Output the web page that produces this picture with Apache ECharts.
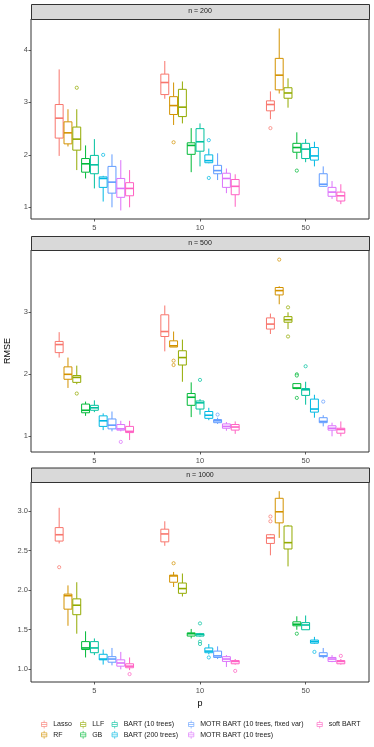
<!DOCTYPE html>
<html>
<head>
<meta charset="utf-8">
<script src="https://cdn.jsdelivr.net/npm/echarts@6/dist/echarts.min.js"></script>
<style>
  html, body { margin: 0; padding: 0; background: #fff; }
  #chart { width: 374px; height: 747px; }
</style>
</head>
<body>
<div id="chart"></div>
<script>
const methods = ['Lasso', 'RF', 'LLF', 'GB', 'BART (10 trees)', 'BART (200 trees)',
  'MOTR BART (10 trees, fixed var)', 'MOTR BART (10 trees)', 'soft BART']
const colors = ['#F8766D', '#D39200', '#93AA00', '#00BA38', '#00C19F', '#00B9E3', '#619CFF', '#DB72FB', '#FF61C3']
const pLabels = ['5', '10', '50']
const panelTitles = ['n = 200', 'n = 500', 'n = 1000']

// [lower whisker, Q1, median, Q3, upper whisker], one row per method
const n200_p5 = [[1.98, 2.32, 2.70, 2.96, 3.63], [2.16, 2.21, 2.42, 2.63, 2.87], [1.71, 2.09, 2.30, 2.53, 2.87],
  [1.55, 1.67, 1.83, 1.93, 2.18], [1.36, 1.64, 1.81, 1.99, 2.30], [1.11, 1.38, 1.55, 1.58, 1.60],
  [1.00, 1.27, 1.48, 1.78, 2.01], [0.94, 1.19, 1.36, 1.55, 1.90], [1.00, 1.22, 1.36, 1.47, 1.71]]
const n200_p10 = [[3.07, 3.15, 3.38, 3.54, 3.79], [2.57, 2.77, 2.94, 3.11, 3.38], [2.60, 2.73, 2.91, 3.25, 3.40],
  [1.67, 2.01, 2.18, 2.23, 2.51], [1.78, 2.07, 2.25, 2.50, 2.60], [1.84, 1.85, 1.89, 2.00, 2.12],
  [1.52, 1.64, 1.70, 1.80, 2.03], [1.27, 1.38, 1.55, 1.65, 1.74], [1.01, 1.24, 1.40, 1.53, 1.63]]
const n200_p50 = [[2.68, 2.84, 2.96, 3.03, 3.21], [3.17, 3.24, 3.52, 3.84, 4.41], [2.90, 3.08, 3.18, 3.28, 3.46],
  [1.92, 2.05, 2.14, 2.22, 2.43], [1.86, 1.93, 2.11, 2.22, 2.30], [1.78, 1.90, 1.98, 2.14, 2.25],
  [1.39, 1.40, 1.44, 1.64, 1.78], [1.16, 1.21, 1.29, 1.38, 1.50], [1.06, 1.12, 1.22, 1.29, 1.44]]

const n500_p5 = [[2.27, 2.35, 2.48, 2.53, 2.68], [1.78, 1.92, 2.00, 2.12, 2.27], [1.84, 1.87, 1.95, 1.98, 2.14],
  [1.33, 1.38, 1.42, 1.52, 1.56], [1.39, 1.42, 1.46, 1.50, 1.58], [1.10, 1.16, 1.25, 1.33, 1.37],
  [1.08, 1.12, 1.18, 1.28, 1.40], [1.08, 1.10, 1.12, 1.19, 1.25], [0.94, 1.06, 1.08, 1.16, 1.25]]
const n500_p10 = [[2.37, 2.61, 2.69, 2.96, 3.11], [2.44, 2.44, 2.46, 2.54, 2.69], [1.88, 2.15, 2.27, 2.38, 2.56],
  [1.31, 1.50, 1.63, 1.69, 1.87], [1.35, 1.44, 1.54, 1.57, 1.60], [1.26, 1.29, 1.34, 1.40, 1.46],
  [1.20, 1.22, 1.25, 1.27, 1.30], [1.09, 1.13, 1.16, 1.20, 1.23], [1.04, 1.10, 1.15, 1.19, 1.24]]
const n500_p50 = [[2.65, 2.73, 2.81, 2.91, 2.98], [3.13, 3.28, 3.35, 3.40, 3.42], [2.73, 2.84, 2.88, 2.93, 3.00],
  [1.76, 1.77, 1.78, 1.85, 1.85], [1.51, 1.66, 1.75, 1.77, 1.88], [1.30, 1.39, 1.44, 1.60, 1.67],
  [1.16, 1.22, 1.24, 1.30, 1.34], [1.00, 1.10, 1.13, 1.17, 1.22], [1.00, 1.05, 1.11, 1.13, 1.24]]

const n1000_p5 = [[2.59, 2.62, 2.70, 2.79, 3.04], [1.55, 1.76, 1.93, 1.95, 2.06], [1.45, 1.69, 1.81, 1.89, 2.10],
  [1.15, 1.25, 1.27, 1.35, 1.48], [1.18, 1.21, 1.27, 1.35, 1.39], [1.06, 1.12, 1.13, 1.19, 1.25],
  [1.05, 1.09, 1.13, 1.16, 1.27], [1.00, 1.04, 1.08, 1.12, 1.22], [0.99, 1.02, 1.04, 1.07, 1.15]]
const n1000_p10 = [[2.56, 2.61, 2.71, 2.77, 2.87], [2.04, 2.10, 2.18, 2.19, 2.23], [1.92, 1.96, 2.02, 2.09, 2.21],
  [1.39, 1.42, 1.45, 1.46, 1.51], [1.41, 1.42, 1.44, 1.45, 1.46], [1.19, 1.21, 1.23, 1.27, 1.32],
  [1.13, 1.15, 1.17, 1.23, 1.29], [1.03, 1.10, 1.13, 1.16, 1.18], [1.06, 1.07, 1.10, 1.11, 1.13]]
const n1000_p50 = [[2.44, 2.59, 2.66, 2.70, 2.71], [2.66, 2.85, 2.99, 3.16, 3.25], [2.30, 2.52, 2.60, 2.81, 2.82],
  [1.50, 1.55, 1.57, 1.60, 1.67], [1.50, 1.50, 1.56, 1.59, 1.68], [1.32, 1.33, 1.35, 1.37, 1.41],
  [1.14, 1.16, 1.17, 1.21, 1.27], [1.09, 1.10, 1.13, 1.15, 1.18], [1.06, 1.07, 1.10, 1.11, 1.13]]

// outliers: [method index, p index, RMSE]
const n200_out = [[2, 0, 3.28], [5, 0, 2.00], [1, 1, 2.24], [5, 1, 2.28], [5, 1, 1.56], [0, 2, 2.51], [3, 2, 1.70]]
const n500_out = [[2, 0, 1.69], [7, 0, 0.91], [1, 1, 2.22], [1, 1, 2.15], [4, 1, 1.91], [6, 1, 1.35],
  [1, 2, 3.85], [2, 2, 3.08], [2, 2, 2.61], [3, 2, 2.00], [3, 2, 1.98], [3, 2, 1.62], [4, 2, 2.13], [6, 2, 1.56]]
const n1000_out = [[0, 0, 2.29], [8, 0, 0.94], [1, 1, 2.34], [4, 1, 1.58], [4, 1, 1.35], [4, 1, 1.32], [5, 1, 1.15],
  [8, 1, 0.98], [0, 2, 2.93], [0, 2, 2.87], [3, 2, 1.45], [5, 2, 1.22], [8, 2, 1.17]]

const yTicks = [[1, 2, 3, 4], [1, 2, 3], [1, 1.5, 2, 2.5, 3]]

const panels = [
  { stats: [n200_p5, n200_p10, n200_p50], out: n200_out, ymin: 0.777, ymax: 4.591, top: 19, height: 200, stripTop: 4 },
  { stats: [n500_p5, n500_p10, n500_p50], out: n500_out, ymin: 0.747, ymax: 4.005, top: 250, height: 202, stripTop: 236 },
  { stats: [n1000_p5, n1000_p10, n1000_p50], out: n1000_out, ymin: 0.84, ymax: 3.366, top: 482, height: 200, stripTop: 467.5 }
]

const font = "'Liberation Sans', Arial, sans-serif"
const slot = 0.75 / methods.length
const boxW = slot * 0.9
function xPos(m, p) {
  return p + 1 + (m - (methods.length - 1) / 2) * slot
}

function renderBox(params, api) {
  const x = api.value(0)
  const lo = api.coord([x, api.value(1)])
  const q1 = api.coord([x, api.value(2)])
  const md = api.coord([x, api.value(3)])
  const q3 = api.coord([x, api.value(4)])
  const hi = api.coord([x, api.value(5)])
  const w = api.size([boxW, 0])[0]
  const c = api.visual('color')
  return {
    type: 'group',
    children: [
      { type: 'line', shape: { x1: lo[0], y1: lo[1], x2: q1[0], y2: q1[1] }, style: { stroke: c, lineWidth: 1 } },
      { type: 'line', shape: { x1: q3[0], y1: q3[1], x2: hi[0], y2: hi[1] }, style: { stroke: c, lineWidth: 1 } },
      { type: 'rect', shape: { x: q3[0] - w / 2, y: q3[1], width: w, height: q1[1] - q3[1] },
        style: { stroke: c, fill: '#fff', lineWidth: 1 } },
      { type: 'line', shape: { x1: md[0] - w / 2, y1: md[1], x2: md[0] + w / 2, y2: md[1] },
        style: { stroke: c, lineWidth: 1.6 } }
    ]
  }
}

const grids = [], xAxes = [], yAxes = [], series = [], graphics = []
panels.forEach((pn, g) => {
  grids.push({ left: 31, width: 338, top: pn.top, height: pn.height, show: true, outerBoundsMode: 'none',
    borderColor: '#333333', borderWidth: 1, backgroundColor: '#fff' })
  xAxes.push({
    gridIndex: g, type: 'value', min: 0.4, max: 3.6,
    axisLine: { show: false }, splitLine: { show: false },
    axisTick: { customValues: [1, 2, 3], length: 2.5, lineStyle: { color: '#333333', width: 0.8 } },
    axisLabel: { customValues: [1, 2, 3], formatter: v => pLabels[Math.round(v) - 1],
      fontSize: 7.5, color: '#4D4D4D', margin: 4.5, fontFamily: font },
    name: g === 2 ? 'p' : '', nameLocation: 'middle', nameGap: 17,
    nameTextStyle: { fontSize: 9, color: '#000', fontFamily: font }
  })
  yAxes.push({
    gridIndex: g, type: 'value', min: pn.ymin, max: pn.ymax,
    axisLine: { show: false }, splitLine: { show: false },
    axisTick: { customValues: yTicks[g], length: 2.5, lineStyle: { color: '#333333', width: 0.8 } },
    axisLabel: { customValues: yTicks[g], formatter: v => g === 2 ? v.toFixed(1) : String(v),
      fontSize: 7.5, color: '#4D4D4D', margin: 3, fontFamily: font },
    name: g === 1 ? 'RMSE' : '', nameLocation: 'middle', nameGap: 19,
    nameTextStyle: { fontSize: 9, color: '#000', fontFamily: font }
  })
  methods.forEach((m, i) => {
    series.push({
      name: m, type: 'custom', xAxisIndex: g, yAxisIndex: g,
      itemStyle: { color: colors[i] },
      renderItem: renderBox,
      encode: { x: 0, y: [1, 2, 3, 4, 5] },
      data: pn.stats.map((s, p) => [xPos(i, p)].concat(s[i]))
    })
    series.push({
      name: m, type: 'scatter', xAxisIndex: g, yAxisIndex: g,
      symbol: 'circle', symbolSize: 3.2,
      itemStyle: { color: '#fff', borderColor: colors[i], borderWidth: 0.9 },
      data: pn.out.filter(o => o[0] === i).map(o => [xPos(o[0], o[1]), o[2]])
    })
  })
  graphics.push({
    type: 'rect', left: 31, top: pn.stripTop,
    shape: { width: 338, height: pn.top - pn.stripTop },
    style: { fill: '#D9D9D9', stroke: '#333333', lineWidth: 1 }
  })
  graphics.push({
    type: 'text', x: 200, y: (pn.stripTop + pn.top) / 2,
    style: { text: panelTitles[g], fill: '#1A1A1A', fontSize: 7, fontFamily: font,
      textAlign: 'center', textVerticalAlign: 'middle' }
  })
})

const glyph = 'path://M5,0L5,3M1,3L9,3L9,9L1,9ZM1,6L9,6M5,9L5,12'
const legendCols = [[0, 1], [2, 3], [4, 5], [6, 7], [8]]
const legendLeft = [41, 80, 111.5, 188, 316.5]
const legends = legendCols.map((col, k) => ({
  orient: 'vertical', left: legendLeft[k], top: 720, padding: 0, height: 24,
  itemWidth: 8, itemHeight: 8, itemGap: 1.3,
  textStyle: { fontSize: 7, color: '#1A1A1A', fontFamily: font },
  data: col.map(i => ({ name: methods[i], icon: glyph,
    itemStyle: { color: '#fff', borderColor: colors[i], borderWidth: 1, opacity: 0.6 } }))
}))

const chart = echarts.init(document.getElementById('chart'))
chart.setOption({
  animation: false,
  backgroundColor: '#fff',
  grid: grids,
  xAxis: xAxes,
  yAxis: yAxes,
  legend: legends,
  graphic: graphics,
  series: series
})
</script>
</body>
</html>
